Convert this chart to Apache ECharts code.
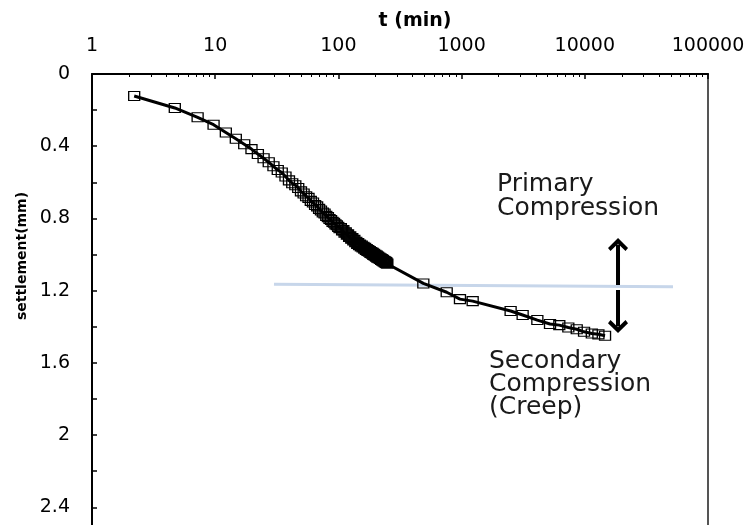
<!DOCTYPE html>
<html><head><meta charset="utf-8">
<script src="https://cdn.jsdelivr.net/npm/echarts@6/dist/echarts.min.js"></script>
<style>html,body{margin:0;padding:0;background:#fff}#c{width:750px;height:525px}</style>
</head><body><div id="c"></div>
<script>
// time (min) of each reading
const tValues = [2.2,4.7,7.2,9.7,12.2,14.7,17.2,19.7,22.2,24.7,27.2,29.7,32.2,34.7,37.2,39.7,42.2,44.7,47.2,49.7,
  52.2,54.7,57.2,59.7,62.2,64.7,67.2,69.7,72.2,74.7,77.2,79.7,82.2,84.7,87.2,89.7,92.2,94.7,97.2,99.7,
  102.2,104.7,107.2,109.7,112.2,114.7,117.2,119.7,122.2,124.7,
  127.2,129.7,132.2,134.7,137.2,139.7,142.2,144.7,147.2,149.7,
  152.2,154.7,157.2,159.7,162.2,164.7,167.2,169.7,172.2,174.7,
  177.2,179.7,182.2,184.7,187.2,189.7,192.2,194.7,197.2,199.7,
  202.2,204.7,207.2,209.7,212.2,214.7,217.2,219.7,222.2,224.7,
  227.2,229.7,232.2,234.7,237.2,239.7,242.2,244.7,247.2,249.7,
  489,757,970,1230,2500,3130,4120,5220,6210,7350,8600,9860,11400,12900,14600];
// settlement (mm) of each reading
const sValues = [0.122,0.188,0.240,0.281,0.324,0.359,0.389,0.416,0.443,0.467,0.489,0.511,0.532,0.546,0.568,0.589,0.605,0.616,0.631,0.650,
  0.662,0.677,0.686,0.703,0.712,0.726,0.733,0.747,0.756,0.767,0.773,0.786,0.793,0.803,0.809,0.819,0.824,0.833,0.838,0.847,
  0.854,0.853,0.867,0.865,0.879,0.877,0.890,0.888,0.902,0.899,
  0.912,0.909,0.922,0.919,0.932,0.929,0.941,0.937,0.948,0.944,
  0.955,0.950,0.961,0.957,0.968,0.963,0.974,0.969,0.980,0.975,
  0.985,0.980,0.991,0.986,0.996,0.991,1.002,0.996,1.007,1.001,
  1.012,1.006,1.017,1.011,1.021,1.016,1.025,1.021,1.030,1.025,
  1.034,1.029,1.039,1.034,1.043,1.038,1.047,1.042,1.050,1.050,
  1.160,1.209,1.247,1.258,1.313,1.335,1.363,1.385,1.391,1.404,1.414,1.428,1.437,1.442,1.450];
// axis ticks
const xTickLabels = [1,10,100,1000,10000,100000];
const yTickLabels = [0,0.4,0.8,1.2,1.6,2,2.4,2.8];
// boundary between primary / secondary compression
const boundaryT = [30, 52000];
const boundaryS = [1.165, 1.178];
// double arrow annotation (shaft start, arrow head)
const arrowT = 18600;
const arrowUpS = [1.169, 0.945];
const arrowDownS = [1.197, 1.399];

const minorTicks = [];
for (let d = 1; d < 100000; d *= 10) for (let k = 2; k <= 9; k++) minorTicks.push(d * k);

const chevron = 'path://M10,0 L20,9.5 L17.5,12.5 L10,5.5 L2.5,12.5 L0,9.5 Z';

function arrowSeries(name, sPair, rotate) {
  return {
    name: name, type: 'line', z: 4, silent: true,
    data: [
      {value: [arrowT, sPair[0]], symbol: 'none'},
      {value: [arrowT, sPair[1]], symbol: chevron, symbolSize: [20, 13], symbolRotate: rotate}
    ],
    lineStyle: {color: '#000', width: 4},
    itemStyle: {color: '#000', borderWidth: 0},
    emphasis: {disabled: true}
  };
}

const chart = echarts.init(document.getElementById('c'), null, {renderer: 'canvas'});
const option = {
  animation: false,
  backgroundColor: '#fff',
  grid: {left: 92, top: 74, width: 616, height: 505.5, containLabel: false, outerBoundsMode: 'none'},
  xAxis: [{
    type: 'log', logBase: 10, min: xTickLabels[0], max: xTickLabels[xTickLabels.length - 1], position: 'top',
    name: 't (min)', nameLocation: 'middle', nameGap: 43,
    nameTextStyle: {fontFamily: 'DejaVu Sans', fontWeight: 'bold', fontSize: 19, color: '#000', padding: [0, 0, 0, 30]},
    axisLine: {show: true, lineStyle: {color: '#000', width: 2}},
    axisTick: {show: true, inside: true, length: 5, lineStyle: {color: '#000', width: 1.5}},
    axisLabel: {show: true, margin: 18, fontFamily: 'DejaVu Sans', fontSize: 19, color: '#000',
      formatter: v => String(Math.round(v))},
    splitLine: {show: false}
  }, {
    type: 'log', logBase: 10, min: xTickLabels[0], max: xTickLabels[xTickLabels.length - 1], position: 'top',
    axisLine: {show: false}, axisLabel: {show: false}, splitLine: {show: false},
    axisTick: {show: true, inside: true, length: 3, customValues: minorTicks, lineStyle: {color: '#000', width: 1}}
  }],
  yAxis: [{
    type: 'value', inverse: true, min: yTickLabels[0], max: yTickLabels[yTickLabels.length - 1], interval: 0.4,
    axisLine: {show: true, lineStyle: {color: '#000', width: 2}},
    axisTick: {show: true, inside: true, length: 5, lineStyle: {color: '#000', width: 1.5}},
    minorTick: {show: true, splitNumber: 2, length: 5, lineStyle: {color: '#000', width: 1.5}},
    minorSplitLine: {show: false},
    axisLabel: {show: true, margin: 22, fontFamily: 'DejaVu Sans', fontSize: 19, color: '#000',
      formatter: v => String(Math.round(v * 10) / 10)},
    splitLine: {show: false}
  }, {
    type: 'value', inverse: true, position: 'right', min: yTickLabels[0], max: yTickLabels[yTickLabels.length - 1], interval: 0.4,
    axisLine: {show: true, lineStyle: {color: '#555', width: 2}},
    axisTick: {show: false}, axisLabel: {show: false}, splitLine: {show: false}
  }],
  graphic: [
    {type: 'text', x: 22, y: 256, rotation: Math.PI / 2,
      style: {text: 'settlement(mm)', font: 'bold 14px "DejaVu Sans"', fill: '#000',
        align: 'center', verticalAlign: 'middle', textAlign: 'center', textVerticalAlign: 'middle'}},
    {type: 'text', x: 497, y: 173,
      style: {text: 'Primary\nCompression', font: '25px "DejaVu Sans"', lineHeight: 23.5, fill: '#1a1a1a',
        align: 'left', verticalAlign: 'top', textAlign: 'left', textVerticalAlign: 'top'}},
    {type: 'text', x: 489, y: 350,
      style: {text: 'Secondary\nCompression\n(Creep)', font: '25px "DejaVu Sans"', lineHeight: 23, fill: '#1a1a1a',
        align: 'left', verticalAlign: 'top', textAlign: 'left', textVerticalAlign: 'top'}}
  ],
  series: [{
    name: 'boundary', type: 'line', z: 1,
    data: boundaryT.map((t, i) => [t, boundaryS[i]]),
    symbol: 'none', lineStyle: {color: '#c7d6ea', width: 3}, silent: true
  },
  arrowSeries('arrowUp', arrowUpS, 0),
  arrowSeries('arrowDown', arrowDownS, 180),
  {
    name: 'settlement', type: 'line', z: 3,
    data: tValues.map((t, i) => [t, sValues[i]]),
    symbol: 'rect', symbolSize: [11, 9], showAllSymbol: true,
    itemStyle: {color: 'rgba(0,0,0,0)', borderColor: '#000', borderWidth: 1.2},
    lineStyle: {color: '#000', width: 3},
    emphasis: {disabled: true}, silent: true
  }]
};
chart.setOption(option);
</script></body></html>
